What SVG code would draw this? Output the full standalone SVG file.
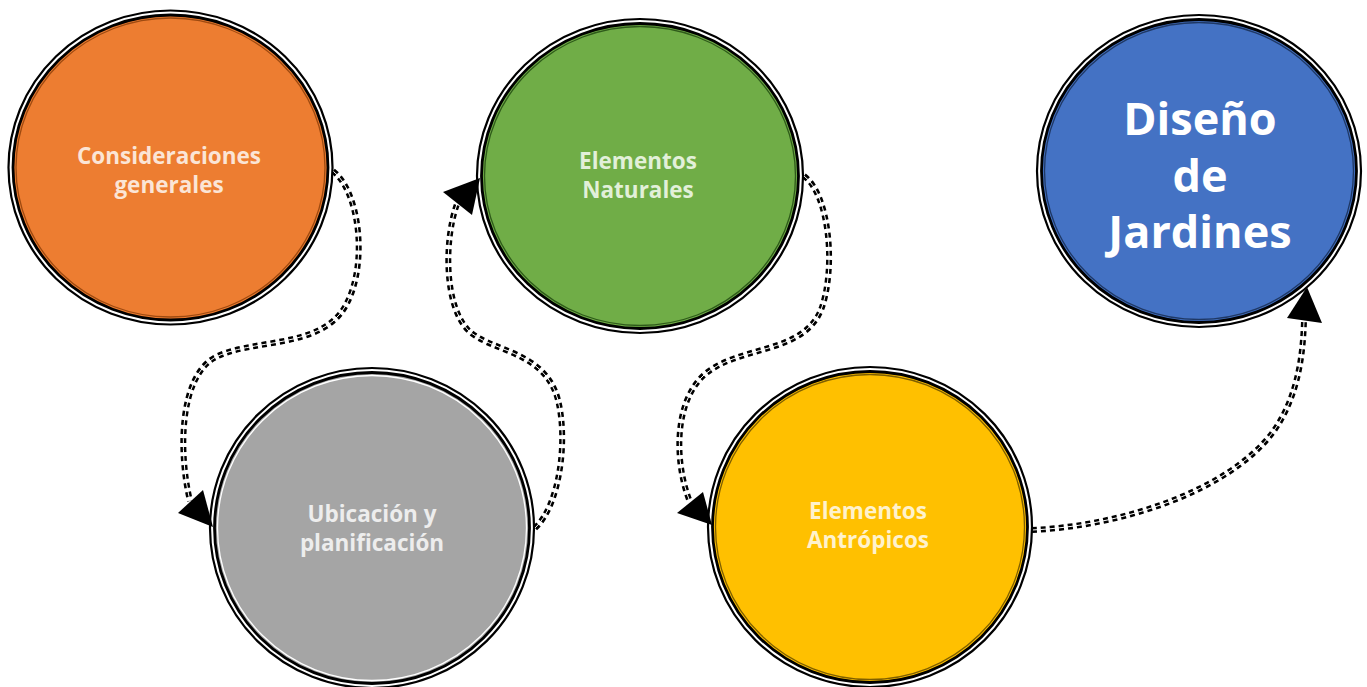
<svg xmlns="http://www.w3.org/2000/svg" xmlns:xlink="http://www.w3.org/1999/xlink" width="1367" height="687" viewBox="0 0 1367 687">
<style>
.ring{fill:#fff;stroke:#000;stroke-width:2.2}
.body{stroke:#000;stroke-width:2.8}
.edge{fill:none;stroke-width:1.3}
.lbl{font-family:"Open Sans","Segoe UI","DejaVu Sans",sans-serif;font-weight:bold;font-size:22.5px;text-anchor:middle}
.big{font-size:45px;fill:#fff}
.dash{fill:none;stroke:#000;stroke-width:6;stroke-dasharray:5 4}
.mid{fill:none;stroke:#fff;stroke-width:1}
.head{fill:#000}
</style>
<defs>
<path id="p1" d="M333,171 C360,192 368,265 346,305 C322,350 250,338 214,358 C180,378 178,450 190,501"/>
<path id="p2" d="M535,528 C560,505 568,440 558,400 C545,350 490,352 468,330 C444,305 444,240 457,204"/>
<path id="p3" d="M804,176 C830,195 836,270 821,310 C802,355 738,345 704,375 C674,402 674,462 690,502"/>
<path id="p4" d="M1032,530 C1120,526 1228,492 1273,432 C1299,396 1303,352 1304,321"/>
</defs>
<rect width="1367" height="687" fill="#fff"/>
<g id="connectors">
<use xlink:href="#p1" class="dash"/><use xlink:href="#p1" class="mid"/>
<use xlink:href="#p2" class="dash"/><use xlink:href="#p2" class="mid"/>
<use xlink:href="#p3" class="dash"/><use xlink:href="#p3" class="mid"/>
<use xlink:href="#p4" class="dash"/><use xlink:href="#p4" class="mid"/>
</g>
<g id="n1">
<ellipse class="ring" cx="170.5" cy="167.5" rx="162" ry="157"/>
<ellipse class="body" cx="170.5" cy="167.5" rx="157.5" ry="152.5" fill="#ED7D31"/>
<ellipse class="edge" cx="170.5" cy="167.5" rx="154.5" ry="149.5" stroke="#9E4A10"/>
<text class="lbl" fill="#FBE5D6"><tspan x="169" y="164">Consideraciones</tspan><tspan x="169" y="193">generales</tspan></text>
</g>
<g id="n2">
<ellipse class="ring" cx="372" cy="528" rx="162" ry="160"/>
<ellipse class="body" cx="372" cy="528" rx="157.5" ry="155.5" fill="#A5A5A5"/>
<ellipse class="edge" cx="372" cy="528" rx="154.5" ry="152.5" stroke="#fff"/>
<text class="lbl" fill="#EDEDED"><tspan x="372" y="522">Ubicación y</tspan><tspan x="372" y="551">planificación</tspan></text>
</g>
<g id="n3">
<ellipse class="ring" cx="640" cy="176" rx="163" ry="157"/>
<ellipse class="body" cx="640" cy="176" rx="158.5" ry="152.5" fill="#70AD47"/>
<ellipse class="edge" cx="640" cy="176" rx="155.5" ry="149.5" stroke="#2E5A1A"/>
<text class="lbl" fill="#E2F0D9"><tspan x="638" y="169">Elementos</tspan><tspan x="638" y="198">Naturales</tspan></text>
</g>
<g id="n4">
<ellipse class="ring" cx="870" cy="527" rx="162" ry="160"/>
<ellipse class="body" cx="870" cy="527" rx="157.5" ry="155.5" fill="#FFC000"/>
<ellipse class="edge" cx="870" cy="527" rx="154.5" ry="152.5" stroke="#7F5F00"/>
<text class="lbl" fill="#FFF2CC"><tspan x="868" y="519">Elementos</tspan><tspan x="868" y="548">Antrópicos</tspan></text>
</g>
<g id="n5">
<ellipse class="ring" cx="1199" cy="171" rx="162" ry="156"/>
<ellipse class="body" cx="1199" cy="171" rx="157.5" ry="151.5" fill="#4472C4"/>
<ellipse class="edge" cx="1199" cy="171" rx="154.5" ry="148.5" stroke="#1F3864"/>
<text class="lbl big"><tspan x="1200" y="135">Diseño</tspan><tspan x="1200" y="192">de</tspan><tspan x="1200" y="248">Jardines</tspan></text>
</g>
<g id="arrowheads">
<polygon class="head" points="178,513 203,490 213,527"/>
<polygon class="head" points="443,192 472,215 480,178"/>
<polygon class="head" points="677,513 703,492 712,525"/>
<polygon class="head" points="1287,318 1322,323 1307,287"/>
</g>
</svg>
